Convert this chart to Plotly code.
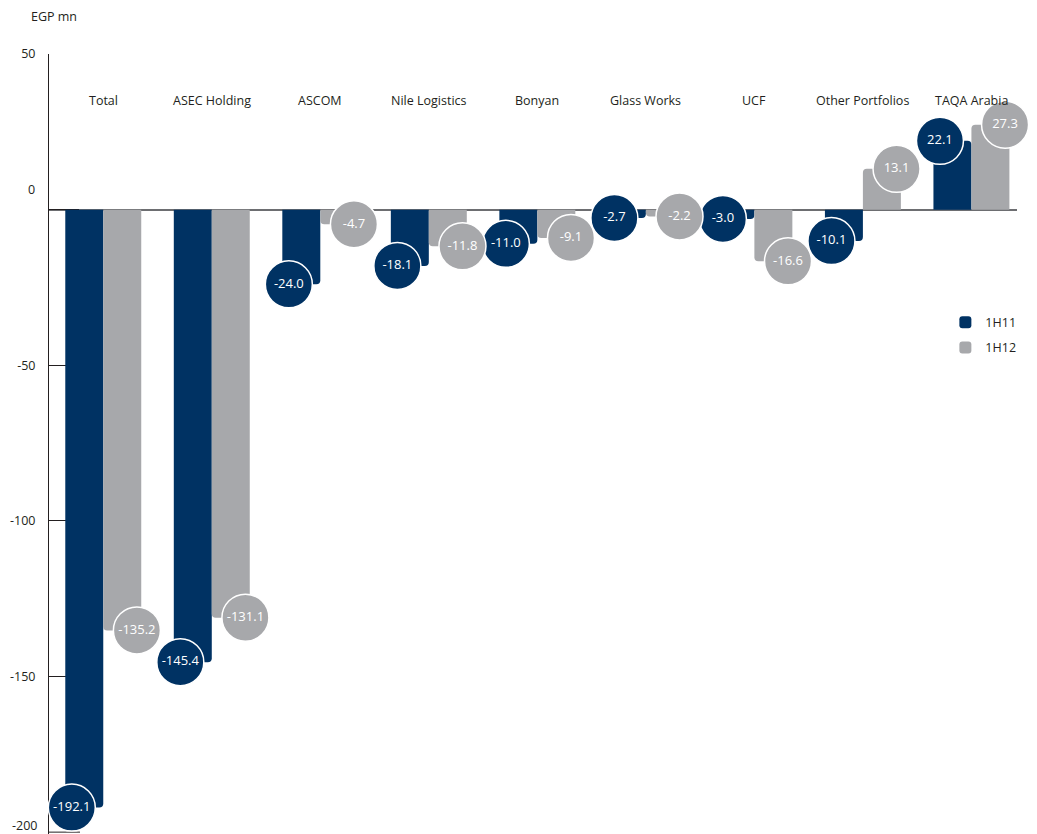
import plotly.graph_objects as go

categories = ["Total", "ASEC Holding", "ASCOM", "Nile Logistics", "Bonyan",
              "Glass Works", "UCF", "Other Portfolios", "TAQA Arabia"]
h1_11 = [-192.1, -145.4, -24.0, -18.1, -11.0, -2.7, -3.0, -10.1, 22.1]
h1_12 = [-135.2, -131.1, -4.7, -11.8, -9.1, -2.2, -16.6, 13.1, 27.3]
series_names = ["1H11", "1H12"]
ytick_vals = [50, 0, -50, -100, -150]
ytick_text = ["50", "", "-50", "-100", "-150"]
y_bottom = -200

NAVY = "#003263"
GRAY = "#a7a8ab"
FONT = "Open Sans, Noto Sans, sans-serif"
TXT = "#231f20"

idx = list(range(len(categories)))
fig = go.Figure()
fig.add_trace(go.Bar(x=idx, y=h1_11, name=series_names[0], marker_color=NAVY,
                     marker_line_width=0, legendgroup="a", hoverinfo="skip"))
fig.add_trace(go.Bar(x=idx, y=h1_12, name=series_names[1], marker_color=GRAY,
                     marker_line_width=0, legendgroup="b", hoverinfo="skip"))

# value bubbles
fig.add_trace(go.Scatter(
    x=[i - 0.29 for i in idx], y=h1_11, mode="markers+text",
    text=[f"{v:.1f}" for v in h1_11], textposition="middle center",
    textfont=dict(color="white", size=13, family=FONT),
    marker=dict(size=47, color=NAVY, line=dict(color="white", width=1.5)),
    showlegend=False, hoverinfo="skip", cliponaxis=False))
fig.add_trace(go.Scatter(
    x=[i + 0.31 for i in idx], y=h1_12, mode="markers+text",
    text=[f"{v:.1f}" for v in h1_12], textposition="middle center",
    textfont=dict(color="white", size=13, family=FONT),
    marker=dict(size=47, color=GRAY, line=dict(color="white", width=1.5)),
    showlegend=False, hoverinfo="skip", cliponaxis=False))

annotations = []
for i, c in enumerate(categories):
    annotations.append(dict(x=i, y=35.2, xref="x", yref="y", text=c, showarrow=False,
                            font=dict(size=12.5, color=TXT, family=FONT)))
annotations.append(dict(x=0, y=0, xref="paper", yref="y", text="0", showarrow=False,
                        xanchor="right", yshift=20, xshift=-12,
                        font=dict(size=12.5, color=TXT, family=FONT)))
annotations.append(dict(x=0, y=y_bottom, xref="paper", yref="y", text=str(y_bottom),
                        showarrow=False, xanchor="right", yanchor="bottom", xshift=-10,
                        yshift=-4,
                        font=dict(size=12.5, color=TXT, family=FONT)))
annotations.append(dict(x=-0.021, y=1.048, xref="paper", yref="paper", text="EGP mn",
                        showarrow=False, xanchor="left", yanchor="middle",
                        font=dict(size=12.5, color=TXT, family=FONT)))

fig.update_layout(
    width=1037, height=834,
    margin=dict(l=49, r=20, t=54, b=0, autoexpand=False),
    paper_bgcolor="white", plot_bgcolor="white",
    barmode="group", bargap=0.3, bargroupgap=0, barcornerradius=4,
    font=dict(family=FONT, color=TXT, size=12.5),
    showlegend=True,
    legend=dict(x=0.926, y=0.675, xanchor="left", yanchor="top",
                bgcolor="rgba(0,0,0,0)", tracegroupgap=6, itemwidth=30,
                font=dict(size=12.5, color=TXT, family=FONT)),
    annotations=annotations,
    shapes=[dict(type="line", xref="paper", yref="y", x0=0, x1=31 / 968,
                 y0=y_bottom, y1=y_bottom, line=dict(color="#231f20", width=1),
                 layer="below")],
    xaxis=dict(range=[-0.5, 8.42], showgrid=False, zeroline=False, showline=False,
               showticklabels=False, ticks="", fixedrange=True),
    yaxis=dict(range=[-200.6, 50], tickvals=ytick_vals, ticktext=ytick_text,
               showgrid=False, zeroline=True, zerolinecolor="#6d6e71", zerolinewidth=1.5,
               showline=True, linecolor="#231f20", linewidth=1,
               ticks="inside", ticklen=30, tickcolor="#231f20", tickwidth=1,
               ticklabelstandoff=10, layer="below traces",
               tickfont=dict(size=12.5, color=TXT, family=FONT)),
)

fig.write_html("out.html")
